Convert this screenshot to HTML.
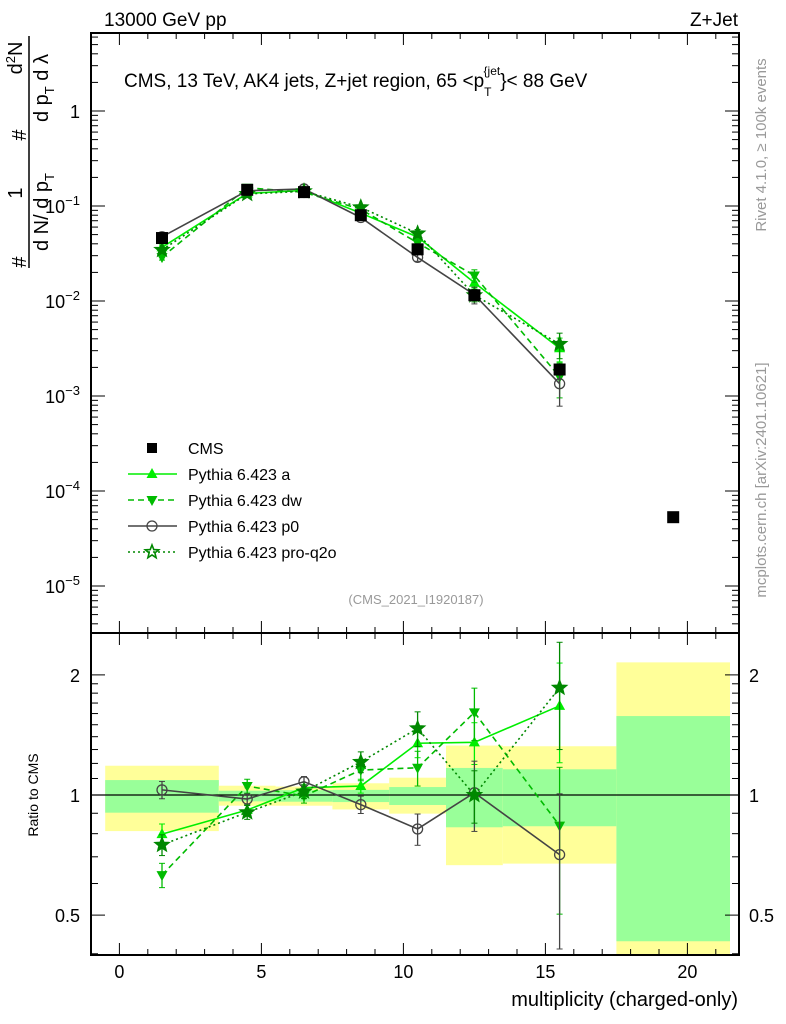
<!DOCTYPE html>
<html><head><meta charset="utf-8"><style>
html,body{margin:0;padding:0;background:#fff;}
svg{display:block;font-family:"Liberation Sans",sans-serif;}
</style></head><body>
<svg id="c" width="786" height="1024" viewBox="0 0 786 1024" xmlns="http://www.w3.org/2000/svg">
<text x="104" y="26" font-size="19">13000 GeV pp</text>
<text x="738" y="26" font-size="19" text-anchor="end">Z+Jet</text>
<text x="124" y="87" font-size="19">CMS, 13 TeV, AK4 jets, Z+jet region, 65 &lt;p<tspan font-size="12" dy="9">T</tspan><tspan font-size="12" dy="-21" dx="-8">{jet</tspan><tspan dy="12">}&lt; 88 GeV</tspan></text>
<text transform="translate(766,145) rotate(-90)" font-size="15" fill="#999" text-anchor="middle">Rivet 4.1.0, ≥ 100k events</text>
<text transform="translate(766,480) rotate(-90)" font-size="15" fill="#999" text-anchor="middle">mcplots.cern.ch [arXiv:2401.10621]</text>
<text x="416" y="604" font-size="13" fill="#999" text-anchor="middle">(CMS_2021_I1920187)</text>
<text x="738" y="1006" font-size="20" text-anchor="end">multiplicity (charged-only)</text>
<text transform="translate(38,795) rotate(-90)" font-size="14" text-anchor="middle">Ratio to CMS</text>
<g font-size="20">
<text transform="translate(26,262) rotate(-90)" text-anchor="middle">#</text>
<text transform="translate(22,193) rotate(-90)" text-anchor="middle">1</text>
<text transform="translate(26,135) rotate(-90)" text-anchor="middle">#</text>
<text transform="translate(22,58) rotate(-90)" text-anchor="middle">d<tspan font-size="13" dy="-7">2</tspan><tspan dy="7">N</tspan></text>
<text transform="translate(48,212) rotate(-90)" text-anchor="middle">d N/ d p<tspan font-size="13" dy="6">T</tspan></text>
<text transform="translate(48,88) rotate(-90)" text-anchor="middle">d p<tspan font-size="13" dy="6">T</tspan><tspan dy="-6"> d λ</tspan></text>
<line x1="29" y1="36" x2="29" y2="268" stroke="#000" stroke-width="1.5"/>
</g>
<g id="g"></g>
</svg>
<script>
// ---- data ----
const binCenters = [1.5, 4.5, 6.5, 8.5, 10.5, 12.5, 15.5, 19.5];
const binLo = [-0.5, 3.5, 5.5, 7.5, 9.5, 11.5, 13.5, 17.5];
const binHi = [3.5, 5.5, 7.5, 9.5, 11.5, 13.5, 17.5, 21.5];
const cmsValues = [0.046, 0.148, 0.14, 0.08, 0.035, 0.0115, 0.0019, 0.000053];
const bandYellowUp = [1.184, 1.055, 1.05, 1.07, 1.105, 1.33, 1.325, 2.15];
const bandYellowDn = [0.812, 0.94, 0.94, 0.92, 0.898, 0.667, 0.673, 0.37];
const bandGreenUp = [1.09, 1.025, 1.028, 1.03, 1.047, 1.169, 1.16, 1.577];
const bandGreenDn = [0.903, 0.964, 0.962, 0.96, 0.944, 0.83, 0.835, 0.43];
const ratioA = [0.798, 0.917, 1.043, 1.053, 1.348, 1.355, 1.673];
const ratioDw = [0.63, 1.053, 0.994, 1.155, 1.17, 1.611, 0.838];
const ratioP0 = [1.03, 0.977, 1.08, 0.946, 0.822, 1.013, 0.709];
const ratioQ2o = [0.75, 0.905, 1.02, 1.21, 1.469, 1.0, 1.857];
const relErrA = [0.06, 0.03, 0.03, 0.04, 0.08, 0.12, 0.28];
const relErrDw = [0.07, 0.04, 0.04, 0.06, 0.1, 0.15, 0.4];
const relErrP0 = [0.05, 0.03, 0.03, 0.05, 0.09, 0.2, 0.42];
const relErrQ2o = [0.06, 0.04, 0.04, 0.06, 0.1, 0.15, 0.3];
const xTicks = [0, 5, 10, 15, 20];
const mainTickExps = [-5, -4, -3, -2, -1, 0];
const ratioTicks = [0.5, 1, 2];

// ---- axes ----
const L=91, R=739, MT=33, MB=633, RB=955;
const X = v => 119.4 + v*28.4;
const Ym = v => 111 - Math.log10(v)*95;
const Yr = v => 795 - Math.log10(v)*399;
const NS="http://www.w3.org/2000/svg";
const G=document.getElementById('g');
function el(tag, attrs, parent){const e=document.createElementNS(NS,tag);for(const k in attrs)e.setAttribute(k,attrs[k]);(parent||G).appendChild(e);return e;}

// bands
const bandG=el('g',{});


binLo.forEach((lo,i)=>{
  const x1=Math.max(X(lo),L), x2=Math.min(X(binHi[i]),R);
  const yt=Math.max(Yr(bandYellowUp[i]),MB), yb=Math.min(Yr(bandYellowDn[i]),RB);
  const r=el('rect',{x:x1,y:yt,width:x2-x1,height:yb-yt,fill:'#ffff99'},bandG);
  
  
  const gt=Yr(bandGreenUp[i]), gb=Yr(bandGreenDn[i]);
  const g=el('rect',{x:x1,y:gt,width:x2-x1,height:gb-gt,fill:'#99ff99'},bandG);
  
  
});
el('line',{x1:L,x2:R,y1:Yr(1),y2:Yr(1),stroke:'#000','stroke-width':1.3});

// frames
const fr=el('rect',{x:L,y:MT,width:R-L,height:MB-MT,fill:'none',stroke:'#000','stroke-width':2});


const fr2=el('rect',{x:L,y:MB,width:R-L,height:RB-MB,fill:'none',stroke:'#000','stroke-width':2});



// x ticks
for(let v=-0;v<=21;v++){
  const major=v%5===0, len=major?12:6, x=X(v);
  [[MT,1],[MB,-1],[MB,1],[RB,-1]].forEach(([y,d])=>el('line',{x1:x,x2:x,y1:y,y2:y+d*len,stroke:'#000','stroke-width':1}));
}
xTicks.forEach(v=>{
  const t=el('text',{x:X(v),y:978,'font-size':18,'text-anchor':'middle'});
  t.textContent=v;
  
  
});
// main y ticks
for(let e=-6;e<=0;e++){
  for(let m=1;m<10;m++){
    const y=Ym(m*Math.pow(10,e));
    if(y<MT||y>MB)continue;
    const len=m===1?14:7;
    el('line',{x1:L,x2:L+len,y1:y,y2:y,stroke:'#000'});
    el('line',{x1:R,x2:R-len,y1:y,y2:y,stroke:'#000'});
  }
}
mainTickExps.forEach(e=>{
  const t=el('text',{x:80,y:Ym(Math.pow(10,e))+7,'font-size':18,'text-anchor':'end'});
  
  
  if(e===0)t.textContent='1';
  else{t.textContent='10';const s=el('tspan',{dy:-8,'font-size':13},t);s.textContent='−'+(-e);}
});
// ratio ticks
[0.4,0.5,0.6,0.7,0.8,0.9,1,1.1,1.2,1.3,1.4,1.5,1.6,1.7,1.8,1.9,2].forEach(v=>{
  const y=Yr(v); const len=ratioTicks.includes(v)?14:7;
  el('line',{x1:L,x2:L+len,y1:y,y2:y,stroke:'#000'});
  el('line',{x1:R,x2:R-len,y1:y,y2:y,stroke:'#000'});
});
ratioTicks.forEach(v=>{
  [[80,'end'],[749,'start']].forEach(([x,a])=>{
    const t=el('text',{x:x,y:Yr(v)+7,'font-size':18,'text-anchor':a});
    t.textContent=v;
    
    
  });
});

// markers
function marker(type,x,y,color,parent,fill){
  if(type==='sq') return el('rect',{x:x-6,y:y-6,width:12,height:12,fill:'#000'},parent);
  if(type==='up') return el('polygon',{points:`${x},${y-6} ${x-5.5},${y+4} ${x+5.5},${y+4}`,fill:color},parent);
  if(type==='dn') return el('polygon',{points:`${x},${y+6} ${x-5.5},${y-4} ${x+5.5},${y-4}`,fill:color},parent);
  if(type==='circ') return el('circle',{cx:x,cy:y,r:5,fill:'none',stroke:color,'stroke-width':1.3},parent);
  if(type==='star'){let p=[];for(let k=0;k<10;k++){const r=k%2?3:7,a=-Math.PI/2+k*Math.PI/5;p.push((x+r*Math.cos(a)).toFixed(1)+','+(y+r*Math.sin(a)).toFixed(1));}
    return el('polygon',{points:p.join(' '),fill:fill||'none',stroke:color,'stroke-width':1.6},parent);}
}
const series=[
  {name:'a',ratio:ratioA,err:relErrA,color:'#00ee00',m:'up',dash:''},
  {name:'dw',ratio:ratioDw,err:relErrDw,color:'#00bb00',m:'dn',dash:'6,4'},
  {name:'p0',ratio:ratioP0,err:relErrP0,color:'#444',m:'circ',dash:''},
  {name:'pro-q2o',ratio:ratioQ2o,err:relErrQ2o,color:'#008800',m:'star',dash:'2,3'}
];
series.forEach(s=>{
  const gm=el('g',{});
  
  
  const gr=el('g',{});
  
  
  const pm=[],pr=[];
  s.ratio.forEach((r,i)=>{
    const x=X(binCenters[i]); const v=cmsValues[i]*r;
    pm.push(x+','+Ym(v)); pr.push(x+','+Yr(r));
  });
  el('polyline',{points:pm.join(' '),fill:'none',stroke:s.color,'stroke-width':1.6,'stroke-dasharray':s.dash},gm);
  el('polyline',{points:pr.join(' '),fill:'none',stroke:s.color,'stroke-width':1.6,'stroke-dasharray':s.dash},gr);
  s.ratio.forEach((r,i)=>{
    const x=X(binCenters[i]); const v=cmsValues[i]*r; const e=s.err[i];
    [[gm,Ym(v*(1+e)),Ym(Math.max(v*(1-e),1e-9))],[gr,Math.max(Yr(r*(1+e)),MB),Math.min(Yr(r*(1-e)),RB)]].forEach(([g,y1,y2])=>{
      el('line',{x1:x,x2:x,y1:y1,y2:y2,stroke:s.color,'stroke-width':1.3},g);
      el('line',{x1:x-3,x2:x+3,y1:y1,y2:y1,stroke:s.color},g);
      el('line',{x1:x-3,x2:x+3,y1:y2,y2:y2,stroke:s.color},g);
    });
    const mk=marker(s.m,x,Ym(v),s.color,gm,s.color);
    
    
    const mk2=marker(s.m,x,Yr(r),s.color,gr,s.color);
    
    
  });
});
// CMS data
const gc=el('g',{});


cmsValues.forEach((v,i)=>{
  const m=marker('sq',X(binCenters[i]),Ym(v),'#000',gc);
  
  
});

// legend
const legend=[['sq','#000','','CMS'],['up','#00ee00','','Pythia 6.423 a'],['dn','#00bb00','6,4','Pythia 6.423 dw'],['circ','#444','','Pythia 6.423 p0'],['star','#008800','2,3','Pythia 6.423 pro-q2o']];
legend.forEach((l,i)=>{
  const y=448+i*26;
  const g=el('g',{});
  
  
  if(i>0) el('line',{x1:128,x2:177,y1:y,y2:y,stroke:l[1],'stroke-width':1.6,'stroke-dasharray':l[2]},g);
  const m=marker(l[0],152,y,l[1],g);
  if(i===0){m.setAttribute('x',147);m.setAttribute('y',y-5);m.setAttribute('width',10);m.setAttribute('height',10);}
  const t=el('text',{x:188,y:y+6,'font-size':16},g);
  t.textContent=l[3];
});
</script>
</body></html>
